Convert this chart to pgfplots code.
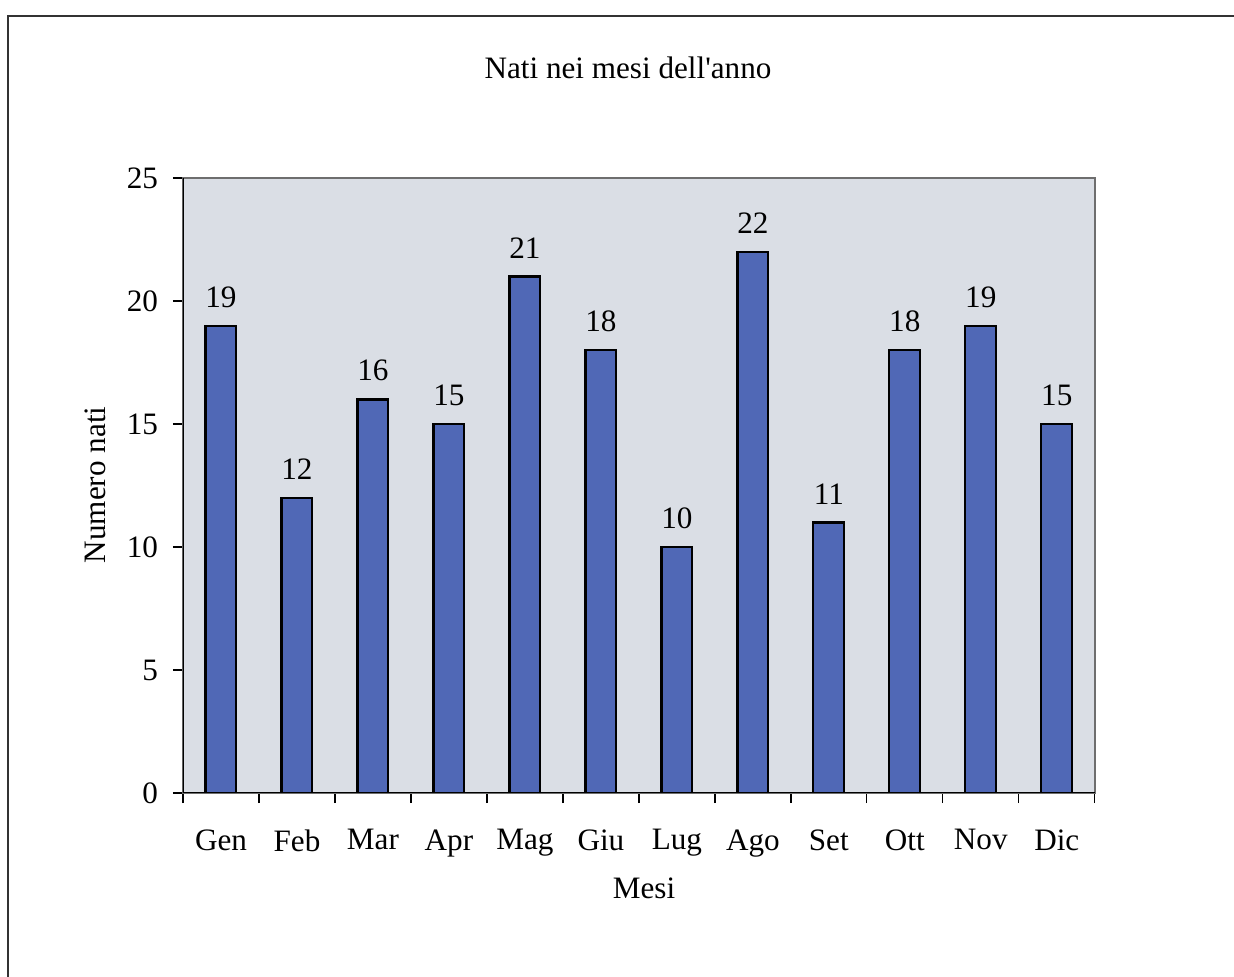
\documentclass[border=0pt]{standalone}
\usepackage{fontspec}
\setmainfont{Liberation Serif}
\usepackage{pgfplots}
\pgfplotsset{compat=1.18}
\definecolor{barblue}{RGB}{80,104,182}
\definecolor{plotbg}{RGB}{218,222,229}
\definecolor{frameg}{RGB}{110,110,110}
\begin{document}
\begin{tikzpicture}
\def\fs{\fontsize{11.5}{13.5}\selectfont}
\begin{axis}[
  at={(0,0)}, anchor=south west, scale only axis,
  width=11.825cm, height=7.974cm,
  xmin=0.5, xmax=12.5, ymin=0, ymax=25,
  axis background/.style={fill=plotbg},
  axis line style={frameg, line width=0.6pt},
  xtick={1,...,12},
  xticklabels={Gen,Feb,Mar,Apr,Mag,Giu,Lug,Ago,Set,Ott,Nov,Dic},
  major x tick style={draw=none},
  minor xtick={0.5,1.5,...,12.5},
  minor x tick style={black, line width=0.5pt},
  minor tick length=0.13cm,
  ytick={0,5,...,25},
  major tick length=0.13cm,
  y tick style={black, line width=0.5pt},
  tick align=outside, xtick pos=bottom, ytick pos=left,
  /pgf/number format/assume math mode=true,
  tick label style={font=\fs},
  xticklabel style={yshift=-0.22cm},
  yticklabel style={xshift=-0.07cm},
  ybar, bar width=0.40cm,
  nodes near coords,
  every node near coord/.append style={font=\fs, yshift=3pt},
]
\addplot[fill=barblue, draw=black, line width=0.8pt] coordinates {
  (1,19) (2,12) (3,16) (4,15) (5,21) (6,18)
  (7,10) (8,22) (9,11) (10,18) (11,19) (12,15)
};
\draw[black, line width=0.7pt] (rel axis cs:0,0) -- (rel axis cs:0,1);
\draw[black, line width=0.7pt] (rel axis cs:0,0) -- (rel axis cs:1,0);
\end{axis}
\begin{scope}[x=0.012966cm, y=0.012966cm]
\useasboundingbox (-183,-184) rectangle (1051,793);
\draw[black!80, line width=0.5pt] (-175,-184) -- (-175,777) -- (1051,777);
\node[font=\fs] at (445,725) {Nati nei mesi dell\textquotesingle anno};
\node[font=\fs, rotate=90] at (-88,308) {Numero nati};
\node[font=\fs] at (461,-95) {Mesi};
\end{scope}
\end{tikzpicture}
\end{document}
